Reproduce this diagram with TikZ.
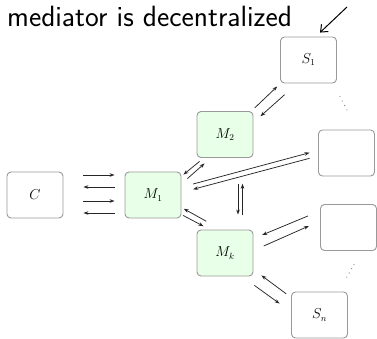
\documentclass[tikz,border=0pt]{standalone}
\usetikzlibrary{arrows.meta}
\begin{document}
\begin{tikzpicture}[x=1pt,y=-1pt,
  box/.style={draw=black!40, line width=0.9pt, rounded corners=4pt,
    minimum width=56pt, minimum height=46pt, inner sep=0pt,
    fill=white, font=\fontsize{13.5}{15}\selectfont},
  med/.style={box, fill=green!9},
  arr/.style={line width=0.75pt, draw=black!85,
    -{Stealth[length=5pt,width=3.6pt]}},
  notearr/.style={line width=1pt, -{Straight Barb[length=6pt,width=10pt]}},
  dot/.style={fill=black!45}
]
\useasboundingbox (0,0) rectangle (377,339);

% heading
\node[anchor=base west, inner sep=0pt,
      font=\sffamily\fontsize{29.3}{31}\selectfont] (title) at (7,27)
      {mediator is decentralized};

% client, mediators and sources
\node[box] (C)  at (35,195)    {$C$};
\node[med] (M1) at (153,195)   {$M_1$};
\node[med] (M2) at (225,134.5) {$M_2$};
\node[med] (Mk) at (225,253)   {$M_k$};
\node[box] (S1) at (308.5,60)  {$S_1$};
\node[box] (R1) at (346.5,153) {};
\node[box] (R2) at (348.5,227.5) {};
\node[box] (Sn) at (319.5,315) {$S_n$};

% pointer to the top source
\coordinate (note) at (347,7);
\draw[notearr] (note) -- ([shift={(11.5,-4)}]S1.north);

% client <-> M1
\draw[arr] ([shift={(20,-20)}]C.east) -- ([shift={(-10,-20)}]M1.west);
\draw[arr] ([shift={(-10,-8)}]M1.west) -- ([shift={(20,-8)}]C.east);
\draw[arr] ([shift={(20,6)}]C.east) -- ([shift={(-10,6)}]M1.west);
\draw[arr] ([shift={(-10,18)}]M1.west) -- ([shift={(20,18)}]C.east);

% M1 <-> M2
\draw[arr] ([shift={(6,7)}]M1.north east) -- ([shift={(8,5.5)}]M2.south west);
\draw[arr] ([shift={(3,3.5)}]M2.south west) -- ([shift={(2,3)}]M1.north east);

% M2 <-> S1
\draw[arr] ([shift={(1.3,-3.2)}]M2.north east) -- ([shift={(-2.8,3)}]S1.south west);
\draw[arr] ([shift={(4.5,11.3)}]S1.south west) -- ([shift={(7,5.2)}]M2.north east);

% M1 <-> second source
\draw[arr] ([shift={(11.7,-11)}]M1.east) -- ([shift={(-8.5,-0.3)}]R1.west);
\draw[arr] ([shift={(-8.5,5.3)}]R1.west) -- ([shift={(11.7,-5.7)}]M1.east);

% M2 <-> Mk
\draw[arr] ([shift={(13,25.8)}]M2.south) -- ([shift={(13,-15)}]Mk.north);
\draw[arr] ([shift={(17.5,-15)}]Mk.north) -- ([shift={(17.5,25.8)}]M2.south);

% M1 <-> Mk
\draw[arr] ([shift={(9.7,-8.3)}]Mk.north west) -- ([shift={(2.3,-9.7)}]M1.south east);
\draw[arr] ([shift={(1.7,-3)}]M1.south east) -- ([shift={(7,-3.3)}]Mk.north west);

% Mk <-> third source
\draw[arr] ([shift={(-12.2,-11.5)}]R2.west) -- ([shift={(8.7,-18)}]Mk.east);
\draw[arr] ([shift={(10.3,-7)}]Mk.east) -- ([shift={(-11.2,-1.5)}]R2.west);

% Mk <-> Sn
\draw[arr] ([shift={(-4.8,2.3)}]Sn.north west) -- ([shift={(8,-1)}]Mk.south east);
\draw[arr] ([shift={(1,9)}]Mk.south east) -- ([shift={(-11.5,12)}]Sn.north west);

% ellipsis dots between sources
\foreach \p in {(340,96.5),(342.3,101),(344.6,105.5),(346.9,110)}
  \fill[dot] \p circle (0.65);
\foreach \p in {(354,264.5),(351.6,268.7),(349.2,272.9),(346.8,277.1)}
  \fill[dot] \p circle (0.65);
\end{tikzpicture}
\end{document}
